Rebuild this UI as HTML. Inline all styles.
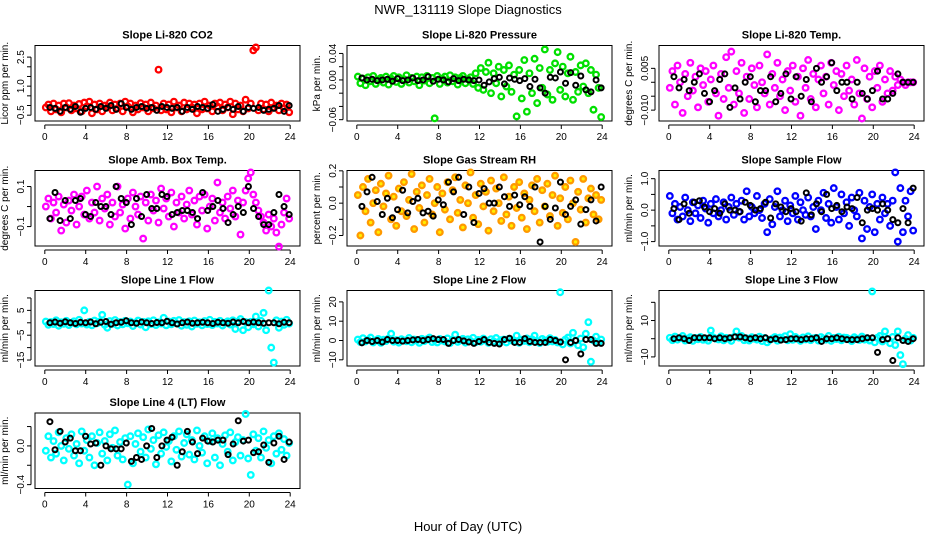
<!DOCTYPE html>
<html><head><meta charset="utf-8"><style>
body{margin:0;background:#fff;width:936px;height:540px;overflow:hidden}
svg{display:block;font-family:"Liberation Sans",sans-serif}
</style></head><body>
<svg id="c" width="936" height="540">
<text x="468" y="14" text-anchor="middle" font-size="13">NWR_131119  Slope Diagnostics</text>
<text x="468" y="531" text-anchor="middle" font-size="13">Hour of Day (UTC)</text>
</svg>
<script>
const xTicks=[0,4,8,12,16,20,24];
const co2Color=[-0.1,0.05,-0.3,0.1,-0.2,0.0,-0.35,0.1,-0.1,0.12,-0.25,0.0,-0.15,0.08,-0.3,0.15,-0.05,0.2,-0.4,0.05,-0.2,0.1,-0.3,0.0,-0.1,0.15,-0.25,0.05,-0.15,0.1,-0.3,0.2,-0.05,0.1,-0.35,0.0,-0.2,0.12,-0.1,0.05,-0.3,0.15,-0.15,0.0,1.85,-0.25,0.1,-0.2,0.05,-0.35,0.2,-0.1,0.0,-0.3,0.15,-0.2,0.1,-0.1,0.05,-0.4,0.1,-0.2,0.2,-0.15,0.0,-0.3,0.1,-0.05,0.15,-0.25,0.05,-0.1,0.2,-0.45,0.1,-0.2,0.0,-0.3,0.3,-0.15,0.1,2.85,3.0,-0.25,0.1,-0.2,0.05,-0.3,0.15,-0.1,0.0,-0.25,0.1,-0.15,0.05,-0.35];
const co2Black=[-0.1,-0.15,-0.3,-0.1,-0.2,-0.05,-0.35,-0.15,-0.1,-0.2,-0.05,-0.15,0.0,-0.2,0.1,-0.1,-0.2,-0.1,-0.05,-0.15,-0.1,-0.25,-0.05,-0.1,-0.15,-0.1,-0.3,-0.1,-0.2,-0.05,-0.1,-0.15,0.05,-0.3,-0.2,-0.1,-0.2,-0.05,-0.3,-0.1,-0.15,-0.1,-0.25,-0.2,-0.15,0.0,-0.3,0.0];
const presColor=[0.005,-0.005,0.002,-0.008,0.004,-0.002,0.006,-0.006,0.001,0.003,-0.004,0.005,-0.007,0.002,0.006,-0.003,0.004,-0.006,0.001,0.007,-0.004,0.003,-0.002,0.005,-0.008,0.004,-0.001,0.006,-0.005,0.003,-0.058,0.006,-0.006,0.002,0.005,-0.004,0.007,-0.002,0.004,-0.007,0.003,0.006,-0.005,0.001,0.004,-0.006,0.01,-0.012,0.018,-0.015,0.012,0.026,-0.02,0.01,-0.005,0.02,-0.025,0.015,-0.01,0.022,-0.018,0.008,-0.055,0.015,-0.028,0.03,-0.048,0.01,-0.02,0.032,-0.035,0.018,-0.012,0.046,-0.022,0.015,-0.03,0.025,0.042,-0.015,0.02,-0.025,0.01,0.035,-0.03,0.012,-0.018,0.022,-0.01,0.025,-0.02,0.015,-0.045,0.008,-0.012,-0.056];
const presBlack=[0.003,0.0,0.001,-0.001,0.0,0.001,-0.002,0.002,-0.001,0.0,0.003,-0.001,0.0,0.005,-0.002,0.001,0.0,-0.003,0.002,-0.001,0.001,0.0,-0.001,0.0,-0.008,-0.003,0.002,0.004,-0.006,0.003,0.001,-0.001,0.002,-0.01,0.001,-0.012,-0.02,0.004,0.003,0.012,-0.005,0.011,-0.008,0.006,-0.015,-0.018,0.0,-0.012];
const tempColor=[-0.002,0.004,-0.008,0.006,0.0,-0.011,0.003,-0.005,0.007,-0.003,0.002,-0.009,0.005,-0.001,0.004,-0.007,0.001,0.006,-0.004,-0.012,0.003,-0.006,0.009,-0.002,0.011,-0.008,0.004,-0.004,0.007,-0.011,0.002,-0.006,0.005,-0.001,-0.009,0.006,0.0,-0.004,0.010,-0.008,0.003,-0.002,0.007,-0.005,0.001,-0.010,0.004,-0.003,0.006,-0.007,0.002,-0.012,0.005,-0.002,0.008,-0.006,0.003,-0.009,0.001,0.006,-0.004,0.002,-0.008,0.007,-0.001,0.004,-0.010,0.003,-0.005,0.006,-0.003,0.001,-0.008,0.008,-0.004,-0.013,0.005,-0.006,0.002,-0.009,0.004,-0.002,0.006,-0.007,0.001,-0.004,0.004,-0.003,0.002,-0.001,0.001,0.0,-0.001,0.0,0.0,0.0];
const tempBlack=[0.002,-0.002,0.001,-0.003,0.0,0.003,-0.004,-0.007,-0.003,0.001,0.003,-0.009,-0.002,-0.006,0.0,0.002,-0.007,-0.003,-0.003,0.002,-0.007,-0.004,0.003,-0.006,0.002,-0.005,0.001,-0.007,0.005,0.0,0.002,0.007,-0.003,0.0,0.0,-0.006,0.0,-0.004,-0.006,-0.003,0.004,-0.006,-0.006,-0.004,0.003,0.0,0.0,0.0];
const ambColor=[0.0,0.04,-0.06,0.02,-0.03,0.05,-0.12,0.01,-0.08,0.03,-0.02,0.06,-0.09,0.0,0.05,-0.04,0.08,-0.06,0.02,-0.03,0.1,-0.07,0.04,-0.01,0.06,-0.09,0.02,-0.05,0.1,-0.03,0.01,-0.11,0.04,-0.06,0.07,0.0,-0.04,0.05,-0.16,0.02,-0.07,0.06,-0.02,0.03,-0.08,0.09,-0.01,0.04,-0.05,0.07,-0.10,0.02,-0.03,0.05,-0.06,0.01,0.08,-0.04,0.03,-0.09,0.05,-0.02,0.06,-0.11,0.0,0.04,-0.07,0.12,-0.03,0.02,-0.06,0.05,-0.01,0.08,-0.05,0.03,-0.14,0.02,0.08,0.14,0.17,0.06,0.02,-0.02,-0.05,-0.08,-0.12,-0.04,-0.1,-0.06,-0.13,-0.2,-0.09,-0.03,0.04,-0.06];
const ambBlack=[-0.06,0.07,-0.07,0.03,-0.06,0.03,0.04,-0.04,-0.05,0.02,0.0,0.0,-0.04,0.1,0.04,0.02,-0.09,0.04,-0.05,0.06,-0.01,-0.01,0.06,0.05,-0.04,-0.03,-0.02,-0.02,-0.03,-0.06,0.07,-0.02,0.0,0.03,-0.01,-0.08,-0.04,0.0,-0.03,0.1,-0.01,-0.05,-0.09,-0.09,-0.03,0.06,0.0,-0.04];
const rhColor=[0.05,-0.2,0.1,-0.05,0.15,-0.12,0.0,0.08,-0.18,0.12,-0.02,0.06,0.17,-0.1,0.04,-0.14,0.09,-0.05,0.13,-0.08,0.02,0.18,-0.16,0.07,-0.03,0.11,-0.12,0.05,0.15,-0.07,0.0,0.1,-0.18,0.06,-0.04,0.13,-0.1,0.08,0.16,-0.06,0.02,-0.15,0.11,0.0,0.19,-0.09,0.05,-0.13,0.12,-0.02,0.07,-0.17,0.14,-0.05,0.09,0.0,-0.11,0.16,-0.07,0.04,-0.14,0.1,-0.03,0.13,-0.09,0.06,-0.16,0.02,0.11,-0.05,0.15,-0.12,0.08,-0.02,0.12,-0.08,0.05,0.17,-0.14,0.03,-0.06,0.1,-0.1,0.14,0.0,-0.24,0.07,-0.04,0.15,-0.12,0.03,0.09,-0.07,0.05,-0.1,0.02];
const rhBlack=[-0.02,0.07,0.16,0.01,-0.07,0.03,-0.09,-0.04,0.08,-0.06,0.01,0.03,-0.06,-0.05,-0.08,0.02,-0.01,0.13,0.07,0.16,-0.07,0.1,-0.12,0.06,0.09,0.0,0.0,0.1,0.04,-0.02,0.05,-0.01,0.04,-0.02,0.1,-0.24,-0.02,-0.1,-0.03,0.13,-0.07,-0.02,0.02,-0.13,-0.04,0.02,-0.11,0.1];
const flowColor=[0.45,-0.1,0.2,-0.3,0.1,-0.2,0.4,0.0,-0.35,0.25,-0.1,0.15,-0.25,0.3,0.05,-0.4,0.2,-0.1,0.35,-0.2,0.0,0.25,-0.3,0.1,0.4,-0.15,0.2,-0.05,0.3,-0.3,0.6,-0.2,0.1,-0.1,0.45,0.0,-0.25,0.2,-0.7,0.35,-0.45,0.1,0.6,-0.2,0.0,0.3,-0.35,0.15,-0.1,0.45,-0.3,0.25,0.0,-0.15,0.4,-0.2,0.1,-0.6,0.3,0.0,0.55,-0.25,0.2,-0.4,0.7,0.1,-0.3,0.5,-0.1,0.25,-0.5,0.4,0.0,-0.2,0.55,-0.9,0.3,-0.6,0.1,0.5,-0.7,0.2,-0.3,0.4,-0.1,0.2,-0.5,0.3,1.2,-1.0,0.7,-0.7,0.3,-0.2,0.6,-0.65];
const flowBlack=[0.05,-0.3,0.2,-0.1,0.25,0.3,0.1,-0.05,0.05,-0.1,0.2,0.0,0.0,-0.05,0.25,0.15,0.0,0.05,0.25,-0.25,0.2,0.1,-0.05,0.05,-0.05,-0.35,0.55,-0.15,0.2,-0.05,0.5,0.05,0.15,-0.05,0.1,0.05,0.4,-0.4,0.0,0.05,0.0,0.2,0.0,-0.3,-0.4,0.05,-0.4,0.7];
const l1Color=[0.5,-0.8,0.3,-0.5,1.0,-1.2,0.2,-0.4,0.8,-0.9,0.0,0.6,-0.6,1.2,-0.3,5.0,-0.7,0.4,-1.0,0.9,-0.2,0.5,3.2,-0.8,-2.0,0.7,-0.4,1.1,-1.1,0.3,-0.6,0.8,-0.2,0.5,-1.3,0.0,0.9,-0.7,0.4,-1.8,0.6,-0.5,1.0,-0.9,0.2,-0.3,2.0,-1.0,0.5,-0.6,0.8,-0.2,1.1,-1.2,0.3,-0.8,0.6,-1.5,0.9,-0.4,0.2,-1.0,0.7,-0.5,1.2,-0.9,0.4,-0.3,0.8,-1.1,0.0,0.6,-0.7,1.0,-2.5,0.5,1.5,-3.0,0.3,-1.8,0.4,-0.6,2.5,-1.5,0.8,4.0,-3.0,13.0,-10.0,-16.0,1.0,-2.0,0.5,-0.8,1.2,-0.3];
const l1Black=[0.0,0.3,-0.2,0.4,0.0,-0.3,0.2,0.0,0.3,-0.4,0.2,0.5,-0.6,0.0,0.2,0.8,0.0,-0.2,0.3,0.0,-0.3,0.1,0.0,0.6,0.0,-0.5,0.0,0.3,-0.2,0.0,0.2,0.0,-0.3,0.2,0.0,-0.2,0.3,0.0,0.5,0.0,0.3,0.0,-0.2,0.0,0.0,-0.4,0.2,0.0];
const l2Color=[0.5,-0.8,1.2,-0.5,0.3,1.5,-1.0,0.0,0.8,-1.2,0.4,-0.3,1.0,3.5,-0.6,0.2,-1.1,0.7,0.0,-0.4,1.3,-0.9,0.5,0.0,-1.2,0.9,-0.3,0.6,1.5,-0.8,0.2,-1.0,0.8,0.0,-0.5,1.1,-1.3,0.4,3.0,-0.7,0.1,0.9,-1.1,0.6,-0.2,1.4,-0.9,0.3,-0.6,1.0,0.0,-1.2,0.7,-0.4,1.3,-0.8,0.2,0.5,-1.0,0.9,0.0,-0.5,2.5,-1.2,0.4,-0.2,1.1,-0.9,0.6,2.5,-0.3,-1.3,0.8,0.0,-0.7,1.2,-0.5,0.3,-1.0,25.0,-2.0,0.5,1.5,-1.5,4.0,0.0,-2.5,1.0,-3.5,3.5,9.5,-11.0,0.0,2.0,-1.0,0.5];
const l2Black=[-1.2,0.0,-0.5,0.0,-0.8,0.5,0.0,0.0,-0.3,0.0,0.3,0.5,0.0,0.5,1.0,0.5,0.5,-1.5,0.0,0.5,-0.2,-0.8,-1.5,-0.5,0.5,-1.0,-1.5,-1.8,0.5,1.2,-1.0,-1.0,1.0,-0.5,-1.0,-1.0,-1.0,0.5,0.0,-0.8,-10.0,-1.0,0.0,-7.0,0.5,0.5,-1.5,-1.5];
const l3Color=[0.5,-0.8,1.2,-0.5,0.3,1.5,-1.0,0.0,0.8,-1.2,0.4,-0.3,1.0,-0.6,0.2,-1.1,4.5,0.7,0.0,-0.4,1.3,-0.9,0.5,0.0,-1.2,0.9,4.0,0.6,1.5,-0.8,0.2,-1.0,0.8,0.0,-0.5,1.1,-1.3,0.4,-2.0,-0.7,0.1,0.9,-1.1,0.6,-0.2,1.4,-0.9,2.5,-0.6,1.0,0.0,-1.2,0.7,-0.4,1.3,-0.8,0.2,0.5,-1.0,0.9,0.0,-0.5,1.5,-1.2,0.4,-0.2,1.1,-0.9,0.6,0.5,-0.3,-1.3,0.8,0.0,-0.7,1.2,-0.5,0.3,-1.0,26.0,-2.0,0.5,1.5,-1.5,4.0,0.0,-2.5,1.0,-3.5,4.0,-9.0,-14.0,0.0,2.0,-1.0,0.5];
const l3Black=[0.0,0.5,0.0,-1.0,0.5,0.5,0.5,0.5,0.0,0.5,0.0,0.5,1.0,1.0,0.5,0.0,0.5,0.0,0.5,-0.5,0.0,-0.8,-0.5,0.0,0.0,-0.5,0.0,0.0,0.5,-1.5,0.0,0.0,0.5,0.0,-0.5,-0.5,-0.5,0.0,0.5,0.5,-7.5,-0.5,0.0,-12.0,0.5,-1.0,-1.5,0.0];
const l4Color=[-0.05,0.1,-0.12,0.05,-0.08,0.14,0.0,-0.15,0.08,-0.03,0.12,-0.1,0.02,-0.18,0.15,-0.05,0.06,-0.12,0.1,-0.2,0.03,0.14,-0.08,0.05,-0.15,0.12,-0.02,0.16,-0.1,0.04,-0.14,0.08,-0.4,0.1,-0.18,0.02,0.13,-0.06,0.09,-0.12,0.17,-0.03,0.06,-0.19,0.11,-0.08,0.14,-0.01,0.05,-0.16,0.1,-0.04,0.15,-0.11,0.03,0.12,-0.09,0.06,-0.14,0.16,0.0,-0.07,0.1,-0.18,0.05,0.13,-0.12,0.08,-0.2,0.02,0.11,-0.06,0.14,-0.15,0.04,0.09,-0.1,0.06,0.33,-0.13,-0.3,0.12,-0.05,0.08,-0.12,0.15,-0.02,0.06,-0.18,0.1,-0.08,0.13,-0.04,0.07,-0.1,0.03];
const l4Black=[0.25,-0.04,0.15,0.04,0.08,-0.05,-0.05,0.1,0.02,0.03,-0.2,0.0,-0.03,-0.03,-0.03,0.03,-0.16,-0.12,-0.14,0.0,0.18,-0.12,0.0,0.06,0.09,-0.2,-0.06,0.15,0.04,-0.08,0.08,0.05,0.04,0.06,0.06,-0.09,0.02,0.26,0.05,0.06,-0.07,-0.06,0.01,-0.17,0.03,0.1,-0.14,0.04];

const svg=document.getElementById('c');
const NS='http://www.w3.org/2000/svg';
const rowTop=[45.5,170.5,290.5,413];
function mk(tag,attrs,parent){const e=document.createElementNS(NS,tag);for(const k in attrs)e.setAttribute(k,attrs[k]);(parent||svg).appendChild(e);return e;}
function panel(key,col,row,title,ylab,ymin,ymax,yt,ylbl,colVals,blkVals,color,fill){
  const L=35+col*312,W=265,T=rowTop[row],H=75.5;
  const g=mk('g',{});
  
  
  const xs=h=>L+(h+0.96)/25.92*W;
  const ys=v=>T+H-(v-ymin)/(ymax-ymin)*H;
  const t=mk('text',{x:L+W/2,y:T-7,'text-anchor':'middle','font-size':11,'font-weight':'bold'},g);t.textContent=title;
  
  
  const yl=mk('text',{transform:`translate(${L-27},${T+H/2}) rotate(-90)`,'text-anchor':'middle','font-size':10},g);yl.textContent=ylab;
  
  
  mk('line',{x1:L-4,x2:L-4,y1:ys(yt[0]),y2:ys(yt[yt.length-1]),stroke:'#000'},g);
  yt.forEach(v=>{mk('line',{x1:L-8,x2:L-4,y1:ys(v),y2:ys(v),stroke:'#000'},g);});
  ylbl.forEach(p=>{const tx=mk('text',{transform:`translate(${L-11},${ys(p[0])}) rotate(-90)`,'text-anchor':'middle','font-size':10},g);tx.textContent=p[1];
    
    });
  mk('line',{x1:xs(0),x2:xs(24),y1:T+H+4,y2:T+H+4,stroke:'#000'},g);
  xTicks.forEach(h=>{mk('line',{x1:xs(h),x2:xs(h),y1:T+H+4,y2:T+H+8,stroke:'#000'},g);
    const tx=mk('text',{x:xs(h),y:T+H+19,'text-anchor':'middle','font-size':10},g);tx.textContent=h;
    
    });
  mk('rect',{x:L,y:T,width:W,height:H,fill:'none',stroke:'#000'},g);
  colVals.forEach((v,i)=>{const hr=0.1+i*23.8/(colVals.length-1);
    const c=mk('circle',{cx:xs(hr),cy:ys(v),r:2.8,fill:fill,stroke:color,'stroke-width':2.3},g);
    
    });
  blkVals.forEach((v,i)=>{const hr=0.5+i*23.4/(blkVals.length-1);
    const c=mk('circle',{cx:xs(hr),cy:ys(v),r:2.5,fill:'none',stroke:'#000','stroke-width':2},g);
    
    });
}
const M='\u2212';
panel('co2',0,0,'Slope Li-820 CO2','Licor ppm per min.',-0.8,3.1,[-0.5,0,0.5,1,1.5,2,2.5],[[-0.5,M+'0.5'],[1,'1.0'],[2.5,'2.5']],co2Color,co2Black,'#ff0000','none');
panel('pressure',1,0,'Slope Li-820 Pressure','kPa per min.',-0.062,0.052,[-0.06,-0.04,-0.02,0,0.02,0.04],[[-0.06,M+'0.06'],[0,'0.00'],[0.04,'0.04']],presColor,presBlack,'#00e000','none');
panel('li820-temp',2,0,'Slope Li-820 Temp.','degrees C per min.',-0.0139,0.0132,[-0.01,-0.005,0,0.005],[[-0.01,M+'0.010'],[0.005,'0.005']],tempColor,tempBlack,'#ff00ff','none');
panel('amb-box-temp',0,1,'Slope Amb. Box Temp.','degrees C per min.',-0.197,0.18,[-0.1,0,0.1],[[-0.1,M+'0.1'],[0.1,'0.1']],ambColor,ambBlack,'#ff00ff','none');
panel('gas-stream-rh',1,1,'Slope Gas Stream RH','percent per min.',-0.265,0.202,[-0.2,-0.1,0,0.1,0.2],[[-0.2,M+'0.2'],[0,'0.0'],[0.2,'0.2']],rhColor,rhBlack,'#ff9900','#ffee00');
panel('sample-flow',2,1,'Slope Sample Flow','ml/min per min.',-1.14,1.26,[-1,-0.5,0,0.5,1],[[-1,M+'1.0'],[0,'0.0'],[1,'1.0']],flowColor,flowBlack,'#0000ff','none');
panel('line1-flow',0,2,'Slope Line 1 Flow','ml/min per min.',-17.4,13,[-15,-10,-5,0,5,10],[[-15,M+'15'],[-5,M+'5'],[5,'5']],l1Color,l1Black,'#00ffff','none');
panel('line2-flow',1,2,'Slope Line 2 Flow','ml/min per min.',-13.2,25.9,[-10,0,10,20],[[-10,M+'10'],[0,'0'],[10,'10'],[20,'20']],l2Color,l2Black,'#00ffff','none');
panel('line3-flow',2,2,'Slope Line 3 Flow','ml/min per min.',-15,26.5,[-10,0,10,20],[[-10,M+'10'],[10,'10']],l3Color,l3Black,'#00ffff','none');
panel('line4-flow',0,3,'Slope Line 4 (LT) Flow','ml/min per min.',-0.44,0.34,[-0.4,-0.2,0,0.2],[[-0.4,M+'0.4'],[0,'0.0']],l4Color,l4Black,'#00ffff','none');
</script>
</body></html>
